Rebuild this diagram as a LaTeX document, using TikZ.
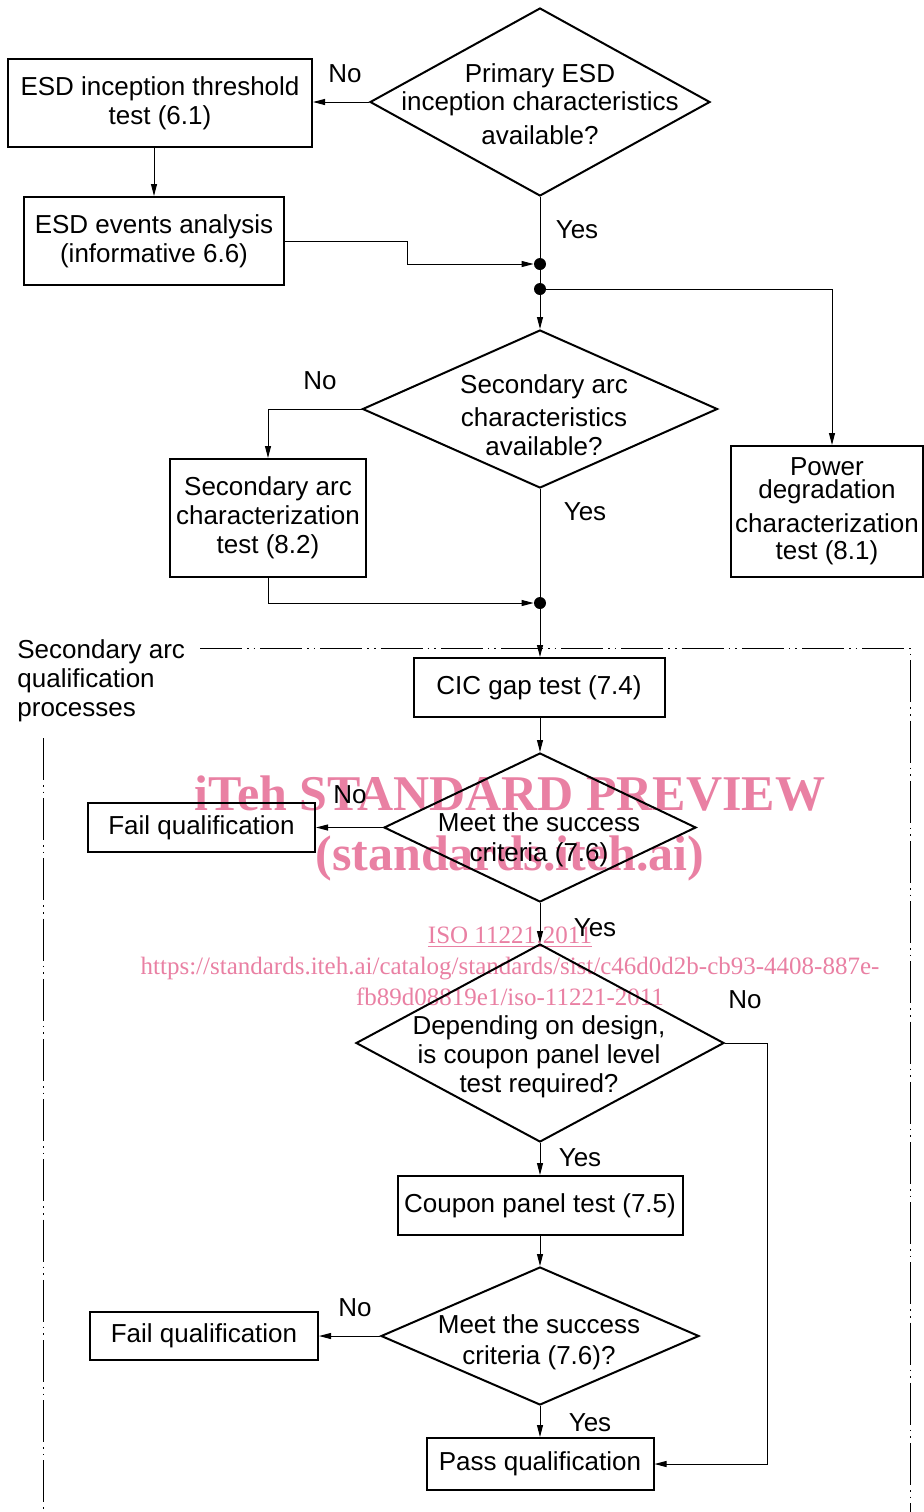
\documentclass[tikz,border=0pt]{standalone}
\usepackage{fontspec}
\setmainfont{Liberation Sans}
\newfontfamily\wmserif{Liberation Serif}
\usetikzlibrary{shapes.geometric,arrows.meta,calc}
\definecolor{wm}{RGB}{233,128,163}
\tikzset{
 base/.style={font=\fontsize{13pt}{14.5pt}\selectfont},
 box/.style={base, draw, line width=1pt, inner sep=0pt, align=center},
 dia/.style={draw, diamond, line width=1pt, inner sep=0pt},
 dtext/.style={base, align=center, inner sep=0pt},
 lbl/.style={base, inner sep=0pt},
 conn/.style={line width=0.5pt},
 arr/.style={conn, -{Triangle[length=6pt,width=3pt]}},
 junc/.style={circle, fill=black, inner sep=0pt, minimum size=6pt},
 frame/.style={line width=0.5pt, dash pattern=on 21pt off 2.5pt on 0.8pt off 2.5pt on 0.8pt off 2.5pt},
 wmbig/.style={text=wm, font=\wmserif\bfseries\fontsize{25pt}{30pt}\selectfont, align=center, inner sep=0pt},
 wmsmall/.style={text=wm, font=\wmserif\fontsize{12.5pt}{15.5pt}\selectfont, align=center, inner sep=0pt},
}
\begin{document}
\begin{tikzpicture}[x=0.5pt,y=-0.5pt]
\useasboundingbox (0,0) rectangle (924,1512);

% watermark (background)
\node[wmbig] (wm1) at (510,828) {iTeh STANDARD PREVIEW\\(standards.iteh.ai)};
\node[wmsmall] (wm2) at (510,966) {\underline{ISO 11221:2011}\\https://standards.iteh.ai/catalog/standards/sist/c46d0d2b-cb93-4408-887e-\\fb89d08819e1/iso-11221-2011};

% top part
\node[dia, minimum width=170pt, minimum height=94pt] (d1) at (540,102) {};
\node[dtext] (d1t) at (540,104) {Primary ESD\\[-0.5pt]inception characteristics\\[2.5pt]available?};
\node[box, minimum width=152pt, minimum height=44pt] (b1) at (160,103) {ESD inception threshold\\test (6.1)};
\node[box, minimum width=130pt, minimum height=44pt] (b2) at (154,241) {ESD events analysis\\(informative 6.6)};
\node[junc] (j1) at (540,264) {};
\node[junc] (j2) at (540,289) {};

\node[dia, minimum width=177.5pt, minimum height=79pt] (d2) at (540,409) {};
\node[dtext] (d2t) at (544,415) {Secondary arc\\[2pt]characteristics\\available?};
\node[box, minimum width=98pt, minimum height=59pt] (b3) at (268,518) {Secondary arc\\characterization\\test (8.2)};
\node[box, minimum width=96pt, minimum height=65.5pt] (pw) at (827,511.5) {Power\\[-3pt]degradation\\[2.5pt]characterization\\[-1pt]test (8.1)};
\node[junc] (j3) at (540,603) {};

% qualification part
\node[box, minimum width=125.5pt, minimum height=29.5pt] (cic) at (539,687.5) {CIC gap test (7.4)};
\node[dia, minimum width=156pt, minimum height=74.5pt] (d3) at (540,827.5) {};
\node[dtext] (d3t) at (539,840) {Meet the success\\[0.5pt]criteria (7.6)};
\node[box, minimum width=113.5pt, minimum height=24.5pt] (f1) at (201.5,827.5) {Fail qualification};
\node[dia, minimum width=184pt, minimum height=99pt] (d4) at (540,1043) {};
\node[dtext] (d4t) at (539,1057) {Depending on design,\\is coupon panel level\\test required?};
\node[box, minimum width=142.5pt, minimum height=29.5pt] (cp) at (540,1205.5) {Coupon panel test (7.5)};
\node[dia, minimum width=159pt, minimum height=69pt] (d5) at (540,1336) {};
\node[dtext] (d5t) at (539,1342) {Meet the success\\[1pt]criteria (7.6)?};
\node[box, minimum width=114pt, minimum height=24pt] (f2) at (204,1336) {Fail qualification};
\node[box, minimum width=113.5pt, minimum height=26pt] (ps) at (540,1464) {Pass qualification};

% labels
\node[lbl] (l1) at (345,74) {No};
\node[lbl] (l2) at (577,230) {Yes};
\node[lbl] (l3) at (320,381) {No};
\node[lbl] (l4) at (585,512) {Yes};
\node[lbl] (l5) at (350,795) {No};
\node[lbl] (l6) at (595,928) {Yes};
\node[lbl] (l7) at (745,1000) {No};
\node[lbl] (l8) at (580,1158) {Yes};
\node[lbl] (l9) at (355,1308) {No};
\node[lbl] (l10) at (590,1423) {Yes};
\node[base, align=left, anchor=west, inner sep=0pt] (reg) at (17,681) {Secondary arc\\qualification\\processes};

% frame
\coordinate (fa) at (200,648);
\coordinate (fb) at (910,648);
\coordinate (fc) at (910,1512);
\coordinate (fd) at (43,738);
\coordinate (fe) at (43,1512);
\draw[frame] (fa) -- (fb) -- (fc);
\draw[frame] (fd) -- (fe);

% helper coordinates for bends
\coordinate (k1) at (407,0);
\coordinate (k2) at (832,0);
\coordinate (k3) at (767,0);

% connectors
\draw[arr] (d1.west) -- (d1.west -| b1.east);
\draw[arr] (b2.north |- b1.south) -- (b2.north);
\draw[arr] (b2.east) -| (k1 |- j1) -- (j1);
\draw[conn] (d1.south) -- (j1);
\draw[conn] (j1) -- (j2);
\draw[arr] (j2) -- (d2.north);
\draw[arr] (j2) -| (k2 |- pw.north);
\draw[arr] (d2.west) -| (b3.north);
\draw[conn] (d2.south) -- (j3);
\draw[arr] (b3.south) |- (j3);
\draw[arr] (j3) -- (j3 |- cic.north);
\draw[arr] (cic.south -| d3.north) -- (d3.north);
\draw[arr] (d3.west) -- (f1.east);
\draw[arr] (d3.south) -- (d4.north);
\draw[arr] (d4.east) -| (k3 |- ps.east) -- (ps.east);
\draw[arr] (d4.south) -- (cp.north);
\draw[arr] (cp.south) -- (d5.north);
\draw[arr] (d5.west) -- (f2.east);
\draw[arr] (d5.south) -- (ps.north);
\end{tikzpicture}
\end{document}
